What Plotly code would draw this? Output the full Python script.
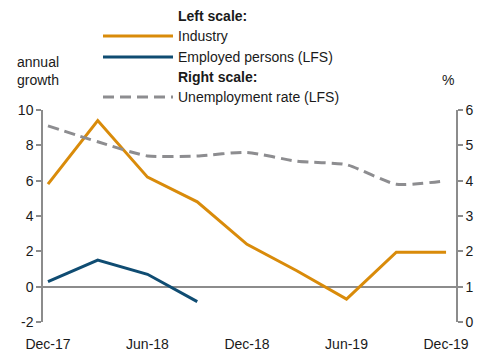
import plotly.graph_objects as go

quarters = ["Dec-17", "Mar-18", "Jun-18", "Sep-18", "Dec-18", "Mar-19", "Jun-19", "Sep-19", "Dec-19"]
industry = [5.8, 9.4, 6.2, 4.8, 2.4, 0.9, -0.7, 1.95, 1.95]
employed = [0.28, 1.5, 0.7, -0.85]
unemployment = [5.55, 5.1, 4.7, 4.7, 4.8, 4.55, 4.45, 3.9, 4.0]
tick_labels = ["Dec-17", "Jun-18", "Dec-18", "Jun-19", "Dec-19"]
left_ticks = [-2, 0, 2, 4, 6, 8, 10]
right_ticks = [0, 1, 2, 3, 4, 5, 6]

ORANGE = "#D98B0A"
BLUE = "#0F4C72"
GRAY = "#8D8D90"
AXIS = "#8C8C8C"
FONT = "Liberation Sans, Arial, sans-serif"
DASH = "11px,6px"

W, H = 478, 351
ML, MR, MT, MB = 43, 22, 110, 29


def px_x(x):
    return (x - ML) / (W - ML - MR)


def px_y(y):
    return (H - MB - y) / (H - MT - MB)


x_idx = list(range(len(quarters)))

fig = go.Figure()
fig.add_trace(go.Scatter(x=x_idx, y=industry, mode="lines",
                         line=dict(color=ORANGE, width=3), name="Industry"))
fig.add_trace(go.Scatter(x=x_idx[:len(employed)], y=employed, mode="lines",
                         line=dict(color=BLUE, width=3), name="Employed persons (LFS)"))
fig.add_trace(go.Scatter(x=x_idx, y=unemployment, mode="lines", yaxis="y2",
                         line=dict(color=GRAY, width=3, dash=DASH, shape="spline", smoothing=0.6),
                         name="Unemployment rate (LFS)"))

fig.update_layout(
    width=W, height=H,
    margin=dict(l=ML, r=MR, t=MT, b=MB, autoexpand=False),
    paper_bgcolor="white", plot_bgcolor="white",
    showlegend=False,
    font=dict(family=FONT, size=14, color="#1a1a1a"),
    xaxis=dict(
        range=[-0.1, 8.2], tickmode="array",
        tickvals=[quarters.index(t) for t in tick_labels], ticktext=tick_labels,
        showgrid=False, zeroline=False, showline=False,
        ticks="outside", ticklen=9, tickcolor="rgba(0,0,0,0)",
        tickfont=dict(size=14), automargin=False,
    ),
    yaxis=dict(
        range=[min(left_ticks), max(left_ticks)], tickmode="array",
        tickvals=left_ticks, ticktext=[str(v) for v in left_ticks],
        showgrid=False,
        showline=True, linecolor=AXIS, linewidth=1.5,
        ticks="outside", ticklen=5, tickcolor=AXIS, tickwidth=1.5,
        zeroline=True, zerolinecolor=AXIS, zerolinewidth=1.5,
        tickfont=dict(size=14), automargin=False,
    ),
    yaxis2=dict(
        range=[min(right_ticks), max(right_ticks)], tickmode="array",
        tickvals=right_ticks, ticktext=[str(v) for v in right_ticks],
        overlaying="y", side="right", showgrid=False,
        showline=True, linecolor=AXIS, linewidth=1.5,
        ticks="outside", ticklen=5, tickcolor=AXIS, tickwidth=1.5,
        zeroline=False, tickfont=dict(size=14), automargin=False,
    ),
)

# axis unit labels
fig.add_annotation(x=px_x(38), y=px_y(71), xref="paper", yref="paper",
                   text="annual<br>growth", showarrow=False, align="center",
                   font=dict(size=14), xanchor="center", yanchor="middle")
fig.add_annotation(x=px_x(448), y=px_y(80), xref="paper", yref="paper",
                   text="%", showarrow=False, font=dict(size=14),
                   xanchor="center", yanchor="middle")

# custom legend with scale headers
legend_rows = [
    ("<b>Left scale:</b>", None, None),
    ("Industry", ORANGE, "solid"),
    ("Employed persons (LFS)", BLUE, "solid"),
    ("<b>Right scale:</b>", None, None),
    ("Unemployment rate (LFS)", GRAY, DASH),
]
row_y = [16, 36, 57, 77, 97]
for (label, color, dash), ypx in zip(legend_rows, row_y):
    yp = px_y(ypx)
    fig.add_annotation(x=px_x(176), y=yp, xref="paper", yref="paper", text=label,
                       showarrow=False, xanchor="left", yanchor="middle",
                       font=dict(size=14))
    if color:
        fig.add_shape(type="line", xref="paper", yref="paper",
                      x0=px_x(103), x1=px_x(173), y0=yp, y1=yp,
                      line=dict(color=color, width=3, dash=dash))

fig.write_html("out.html")
